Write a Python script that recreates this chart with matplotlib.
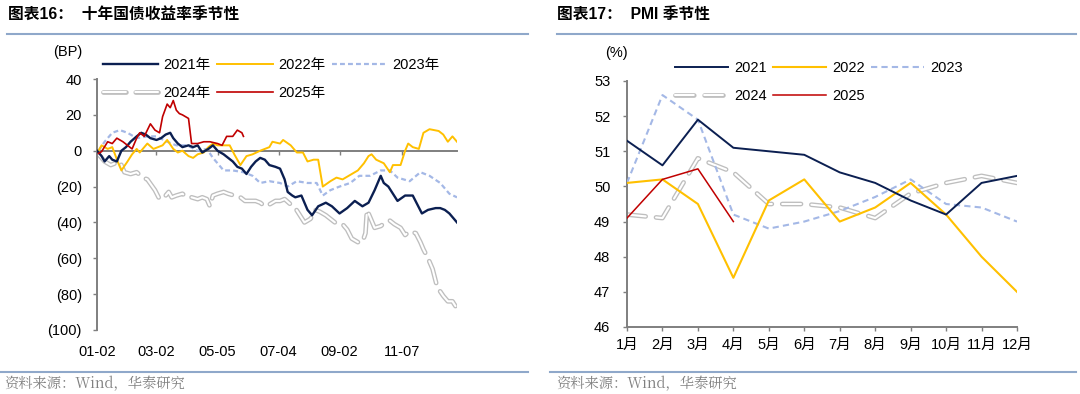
"""Two seasonality panels: 10Y CGB yield change (BP) and PMI, 2021-2025."""
import matplotlib
matplotlib.use("Agg")
import matplotlib.pyplot as plt  # noqa: E402
import matplotlib.patheffects as pe  # noqa: E402
from matplotlib.lines import Line2D  # noqa: E402

plt.rcParams["font.family"] = ["Liberation Sans", "Noto Sans CJK SC"]

NAVY = "#0B1F51"
GOLD = "#FFC000"
LBLUE = "#A4B8E6"
GREY = "#BEBEBE"
RED = "#C00000"
AXC = "#7F7F7F"
RULE = "#8FA8CA"
FS = 10.5

# ---- left panel: cumulative change in 10Y yield (BP) vs trading day of year
X_TICKS = [0, 39, 79, 119, 159, 200]
X_LABELS = ["01-02", "03-02", "05-05", "07-04", "09-02", "11-07"]

d2021 = [0, 3, 5, 8, 10, 13, 16, 19, 22, 26, 29, 32, 35, 39, 42, 45, 48, 50, 53,
         56, 60, 63, 66, 69, 73, 76, 79, 83, 86, 89, 92, 95, 98, 101, 104, 107,
         110, 113, 117, 120, 123, 125, 128, 130, 134, 138, 141, 145, 150, 154,
         159, 164, 169, 174, 178, 182, 186, 188, 191, 194, 197, 202, 207, 210,
         213, 217, 222, 225, 228, 231, 233, 236]
v2021 = [0, -3, -6, -3, -5, -6, 0, 2, 5, 8, 10, 9, 7, 6, 7, 9, 10, 7, 4, 2, 3, 2,
         3, -1, 1, 3, 0, -2, -4, -6, -9, -10, -13, -9, -6, -4, -5, -8, -9, -10,
         -16, -23, -25, -26, -25, -33, -36, -31, -29, -31, -35, -32, -28, -31,
         -29, -22, -14, -18, -20, -24, -28, -25, -25, -30, -35, -33, -32, -32,
         -33, -35, -37, -40]

d2022 = [1, 3, 7, 10, 14, 16, 20, 23, 26, 28, 33, 37, 40, 43, 46, 50, 53, 56, 60,
         63, 66, 70, 73, 76, 79, 82, 87, 90, 94, 98, 102, 107, 110, 113, 115, 120,
         122, 127, 131, 135, 138, 142, 145, 148, 153, 157, 161, 167, 171, 175,
         178, 180, 183, 188, 192, 194, 199, 202, 204, 207, 211, 214, 218, 224,
         227, 230, 233, 236]
v2022 = [0, 3, 1, 2, -7, -11, -6, -2, 1, -1, 4, 1, 2, 3, 6, 1, -1, 0, -3, -4, -2,
         -1, 2, 4, 3, 3, 3, -2, -8, -3, -2, 0, 1, 2, 5, 4, 6, 3, -1, -1, -6, -5,
         -5, -20, -17, -15, -16, -13, -11, -7, -3, -2, -5, -7, -12, -8, -8, 0, 4,
         2, 1, 10, 12, 11, 9, 5, 8, 5]

d2023 = [1, 5, 10, 15, 20, 26, 33, 39, 46, 52, 59, 66, 72, 76, 83, 89, 96, 102,
         107, 113, 120, 125, 131, 138, 144, 148, 153, 159, 166, 172, 179, 186,
         192, 197, 205, 212, 218, 225, 231, 236]
v2023 = [0, 5, 10, 11.5, 10, 7, 8, 8, 5, 3, 3, 0, 1, -4, -11, -11, -12, -14, -18,
         -17, -18, -20, -17, -18, -18, -25, -22, -20, -18, -14, -14, -11, -11,
         -15, -17, -12, -14, -18, -24, -26]

d2024 = [0, 3, 5, 9, 12, 15, 18, 22, 26, 30, 33, 38, 41, 44, 47, 49, 52, 56, 59,
         62, 66, 69, 72, 74, 76, 79, 83, 86, 90, 94, 97, 100, 104, 107, 110, 113,
         117, 120, 123, 127, 130, 133, 136, 140, 143, 146, 150, 153, 156, 161,
         164, 167, 171, 174, 176, 177, 179, 182, 186, 189, 192, 195, 199, 202,
         205, 209, 212, 214, 217, 220, 223, 227, 230, 233, 236]
v2024 = [-1, -4, -6, -8, -7, -6, -12, -13, -12, -15, -16, -22, -27, -26, -23, -26,
         -25, -24, -26, -26, -27, -26, -27, -31, -25, -24, -23, -24, -25, -26,
         -28, -28, -28, -29, -31, -30, -28, -28, -27, -30, -32, -36, -40, -38,
         -33, -34, -36, -38, -40, -41, -44, -49, -51, -51, -46, -33, -37, -43,
         -42, -40, -39, -41, -43, -47, -45, -46, -51, -55, -60, -66, -76, -81,
         -84, -84, -88]

d2025 = [1, 3, 7, 10, 13, 17, 20, 23, 26, 28, 31, 35, 38, 41, 43, 46, 48, 50, 52,
         54, 56, 60, 62, 66, 70, 74, 79, 82, 85, 89, 92, 95, 96]
v2025 = [-1.5, -0.5, 5, 4, 7, 5, 3, 1, 7, 10, 8, 15, 11.5, 10, 19, 26, 24, 28,
         22.6, 20.7, 20, 18, 4, 4, 5, 5, 4, 3, 8, 8, 11.5, 10, 8]

# ---- right panel: manufacturing PMI by month
MONTHS = [f"{m}月" for m in range(1, 13)]
m_idx = list(range(1, 13))
pmi2021 = [51.3, 50.6, 51.9, 51.1, 51.0, 50.9, 50.4, 50.1, 49.6, 49.2, 50.1, 50.3]
pmi2022 = [50.1, 50.2, 49.5, 47.4, 49.6, 50.2, 49.0, 49.4, 50.1, 49.2, 48.0, 47.0]
pmi2023 = [50.1, 52.6, 51.9, 49.2, 48.8, 49.0, 49.3, 49.7, 50.2, 49.5, 49.4, 49.0]
pmi2024 = [49.2, 49.1, 50.8, 50.4, 49.5, 49.5, 49.4, 49.1, 49.8, 50.1, 50.3, 50.1]
pmi2025 = [49.1, 50.2, 50.5, 49.0]


def hollow_kw(lw=1.5, outer=3.4, dash=(11, 4.5)):
    return dict(color="white", lw=lw, linestyle=(0, dash),
                dash_capstyle="round",
                path_effects=[pe.Stroke(linewidth=outer, foreground=GREY),
                              pe.Normal()])


def style_axes(ax, ypad):
    for s in ("top", "right"):
        ax.spines[s].set_visible(False)
    for s in ("left", "bottom"):
        ax.spines[s].set_color(AXC)
        ax.spines[s].set_linewidth(1.4)
    ax.tick_params(colors=AXC, labelcolor="black", labelsize=FS,
                   length=3, width=1.0)
    ax.tick_params(axis="y", pad=ypad)


def bp_fmt(v):
    v = int(round(v))
    return f"({abs(v)})" if v < 0 else f"{v}"


def legend_order(labels):
    # matplotlib fills legend column by column; reorder so rows read 3 + 2
    return [labels[0], labels[3], labels[1], labels[4], labels[2]]


fig = plt.figure(figsize=(10.8, 3.94), dpi=100)

# titles, rules and source lines
fig.text(8 / 1080, 1 - 15 / 394, "图表16：  十年国债收益率季节性", fontsize=11.3,
         fontweight="bold", va="center", ha="left",
         family=["Liberation Sans", "Noto Sans CJK SC"])
fig.text(557 / 1080, 1 - 15 / 394, "图表17：  PMI 季节性", fontsize=11.3,
         fontweight="bold", va="center", ha="left",
         family=["Liberation Sans", "Noto Sans CJK SC"])
for x0, x1 in ((7, 528), (557, 1076)):
    fig.add_artist(Line2D([x0 / 1080, x1 / 1080], [1 - 34 / 394] * 2,
                          color=RULE, lw=1.5))
    fig.add_artist(Line2D([(x0 - 7) / 1080, x1 / 1080], [1 - 372 / 394] * 2,
                          color=RULE, lw=1.5))
for x0 in (4, 556):
    fig.text(x0 / 1080, 1 - 384 / 394, "资料来源：Wind，华泰研究", fontsize=10.3,
             color="#808080", va="center", ha="left",
             family=["Noto Serif CJK SC", "Liberation Sans", "Noto Sans CJK SC"])

# ---- left axes
ax = fig.add_axes([97 / 1080, 64 / 394, 360 / 1080, 251 / 394])
style_axes(ax, ypad=7.8)
ax.plot(d2024, v2024, label="2024年", zorder=2, **hollow_kw())
ax.plot(d2023, v2023, color=LBLUE, lw=1.6, linestyle=(0, (2.2, 1.4)),
        label="2023年", zorder=3)
ax.plot(d2022, v2022, color=GOLD, lw=1.4, label="2022年", zorder=4)
ax.plot(d2021, v2021, color=NAVY, lw=1.7, label="2021年", zorder=5)
ax.plot(d2025, v2025, color=RED, lw=1.2, label="2025年", zorder=6)
ax.set_xlim(0, 236)
ax.set_ylim(-100, 40)
ax.set_yticks(range(-100, 41, 20))
ax.set_yticklabels([bp_fmt(v) for v in range(-100, 41, 20)])
ax.spines["bottom"].set_position(("data", 0))
ax.set_xticks(X_TICKS)
ax.tick_params(axis="x", labelbottom=False)
sec = ax.secondary_xaxis("bottom")
sec.set_xticks(X_TICKS, X_LABELS)
sec.tick_params(length=0, labelsize=FS, pad=11)
sec.spines["bottom"].set_visible(False)
fig.text(53 / 1080, 1 - 52 / 394, "(BP)", fontsize=FS, va="center", ha="left")

h = {l.get_label(): l for l in ax.get_lines()}
order = legend_order(["2021年", "2022年", "2023年", "2024年", "2025年"])
ax.legend([h[k] for k in order], order, ncol=3, frameon=False, fontsize=FS,
          loc="upper left", bbox_to_anchor=(103 / 1080, 1 - 58 / 394),
          bbox_transform=fig.transFigure, handlelength=3.8, handletextpad=0.35,
          columnspacing=0.45, labelspacing=0.95, borderpad=0, borderaxespad=0)

# ---- right axes
ax2 = fig.add_axes([627 / 1080, 67 / 394, 390 / 1080, 246 / 394])
style_axes(ax2, ypad=9)
ax2.plot(m_idx, pmi2024, label="2024", zorder=2, **hollow_kw(dash=(9, 5)))
ax2.plot(m_idx, pmi2023, color=LBLUE, lw=1.5, linestyle=(0, (3, 2)),
         label="2023", zorder=3)
ax2.plot(m_idx, pmi2022, color=GOLD, lw=1.5, label="2022", zorder=4)
ax2.plot(m_idx, pmi2021, color=NAVY, lw=1.4, label="2021", zorder=5)
ax2.plot(m_idx[:len(pmi2025)], pmi2025, color=RED, lw=1.1, label="2025", zorder=6)
ax2.set_xlim(1, 12)
ax2.set_ylim(46, 53)
ax2.set_xticks(m_idx, MONTHS)
ax2.set_yticks(range(46, 54))
ax2.tick_params(axis="x", pad=5)
fig.text(605 / 1080, 1 - 53 / 394, "(%)", fontsize=FS, va="center", ha="left")

h2 = {l.get_label(): l for l in ax2.get_lines()}
order2 = legend_order(["2021", "2022", "2023", "2024", "2025"])
ax2.legend([h2[k] for k in order2], order2, ncol=3, frameon=False, fontsize=FS,
           loc="upper left", bbox_to_anchor=(675 / 1080, 1 - 61 / 394),
           bbox_transform=fig.transFigure, handlelength=3.6, handletextpad=0.48,
           columnspacing=0.41, labelspacing=0.95, borderpad=0, borderaxespad=0)

fig.savefig("out.png", dpi=100)
